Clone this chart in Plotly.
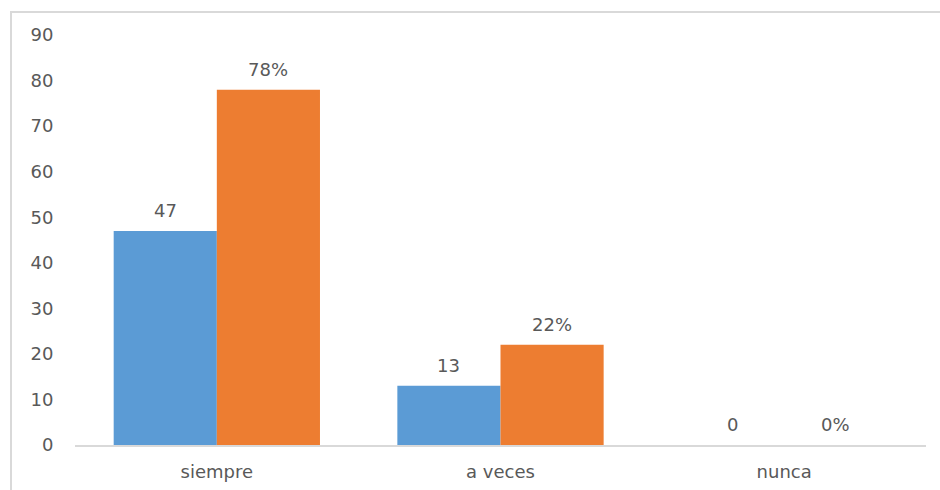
import plotly.graph_objects as go

categories = ["siempre", "a veces", "nunca"]
frecuencia = [47, 13, 0]
porcentaje = [78, 22, 0]
y_ticks = [0, 10, 20, 30, 40, 50, 60, 70, 80, 90]

BLUE = "#5B9BD5"
ORANGE = "#ED7D31"
TEXT = "#595959"
LINE = "#D9D9D9"
FONT = "DejaVu Sans"
FS = 18

W, H = 940, 490
L, R, T, B = 75, 14, 35, 45
plot_w = W - L - R
plot_h = H - T - B

fig = go.Figure()
fig.add_trace(go.Bar(x=categories, y=frecuencia, marker=dict(color=BLUE, line=dict(width=0)),
                     name="Frecuencia"))
fig.add_trace(go.Bar(x=categories, y=porcentaje, marker=dict(color=ORANGE, line=dict(width=0)),
                     name="Porcentaje"))

# value labels above each bar
gap = 0.75
bar_px = plot_w / len(categories) / (2 + gap)
for cat, v in zip(categories, frecuencia):
    fig.add_annotation(x=cat, y=v, text=str(v), showarrow=False, xshift=-bar_px / 2,
                       yanchor="bottom", yshift=8, font=dict(family=FONT, size=FS, color=TEXT))
for cat, v in zip(categories, porcentaje):
    fig.add_annotation(x=cat, y=v, text=f"{v}%", showarrow=False, xshift=bar_px / 2,
                       yanchor="bottom", yshift=8, font=dict(family=FONT, size=FS, color=TEXT))

# chart frame
x0 = (11 - L) / plot_w
y1 = (H - B - 12) / plot_h
fig.add_shape(type="rect", xref="paper", yref="paper", x0=x0, x1=1.2, y0=-0.5, y1=y1,
              line=dict(color=LINE, width=2), fillcolor="rgba(0,0,0,0)", layer="below")

fig.update_layout(
    width=W, height=H,
    margin=dict(l=L, r=R, t=T, b=B),
    paper_bgcolor="white", plot_bgcolor="white",
    barmode="group", bargap=gap / (2 + gap), bargroupgap=0,
    showlegend=False,
    font=dict(family=FONT, size=FS, color=TEXT),
)
fig.update_xaxes(showline=True, linecolor=LINE, linewidth=2, showgrid=False, automargin=False,
                 ticks="outside", ticklen=0, ticklabelstandoff=9,
                 tickfont=dict(family=FONT, size=FS, color=TEXT))
fig.update_yaxes(range=[0, 90], tickvals=y_ticks, showgrid=False, zeroline=False,
                 showline=False, ticks="outside", ticklen=0, ticklabelstandoff=17, automargin=False,
                 tickfont=dict(family=FONT, size=FS, color=TEXT))

fig.write_html("out.html")
